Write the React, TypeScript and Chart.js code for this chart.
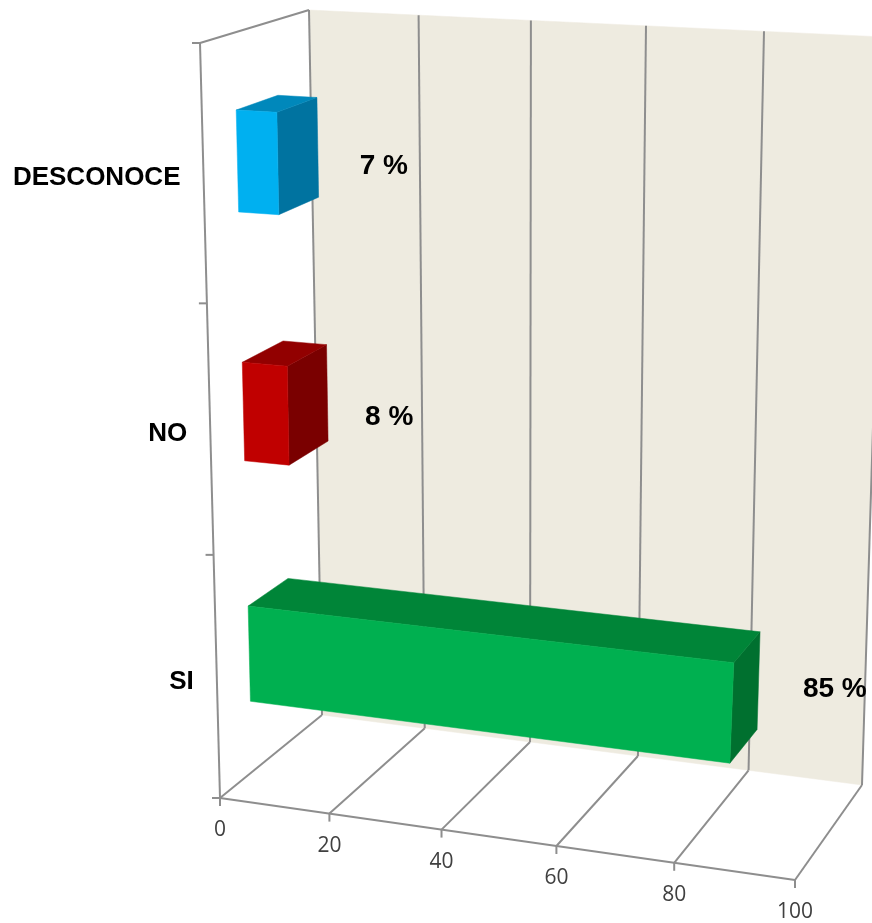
import React, { useEffect, useRef } from "react";
import { Chart, registerables } from "chart.js";

Chart.register(...registerables);

const categories = ["DESCONOCE", "NO", "SI"];
const percentages = [7, 8, 85];
const frontColors = ["#00B0F0", "#C00000", "#00B050"];
const topColors = ["#0088BB", "#920000", "#008538"];
const sideColors = ["#0073A0", "#7A0000", "#00702F"];

const LINE = "#8E8E8E";
const WALL = "#EEEBE0";
const BAR_FRONT_DEPTH = 0.315;
const BAR_BACK_DEPTH = 0.7;
const VALUE_LABEL_OFFSETS = [
  [106, 3],
  [101, 1],
  [103, -24],
];

// Corners of the 3D plot box, indexed [u][v][w]: value, category, depth.
type Pt = [number, number];
const BOX: Pt[][][] = [
  [
    [[220, 798], [322, 715]],
    [[200, 43], [309, 10]],
  ],
  [
    [[795, 880], [862, 785]],
    [[842, 74], [885, 37]],
  ],
];

const lerp = (a: number, b: number, t: number) => a + (b - a) * t;
// Foreshortening along the value and category directions.
const foreshorten = (t: number, k: number) => (k * t) / (1 - t + k * t);

function project(u: number, v: number, w: number): Pt {
  const uu = foreshorten(u, 0.94);
  const vv = foreshorten(v, 0.95);
  const axis = (i: number) => {
    const low = lerp(
      lerp(BOX[0][0][0][i], BOX[0][0][1][i], w),
      lerp(BOX[1][0][0][i], BOX[1][0][1][i], w),
      uu
    );
    const high = lerp(
      lerp(BOX[0][1][0][i], BOX[0][1][1][i], w),
      lerp(BOX[1][1][0][i], BOX[1][1][1][i], w),
      uu
    );
    return lerp(low, high, vv);
  };
  return [axis(0), axis(1)];
}

function poly(ctx: CanvasRenderingContext2D, pts: Pt[], fill: string) {
  ctx.beginPath();
  pts.forEach((p, i) => (i ? ctx.lineTo(p[0], p[1]) : ctx.moveTo(p[0], p[1])));
  ctx.closePath();
  ctx.fillStyle = fill;
  ctx.fill();
  ctx.strokeStyle = fill;
  ctx.lineWidth = 0.5;
  ctx.stroke();
}

function segment(ctx: CanvasRenderingContext2D, a: Pt, b: Pt, width = 2) {
  ctx.beginPath();
  ctx.moveTo(a[0], a[1]);
  ctx.lineTo(b[0], b[1]);
  ctx.strokeStyle = LINE;
  ctx.lineWidth = width;
  ctx.stroke();
}

const box3d = {
  id: "box3d",
  // The plot box and its axes go under the bars.
  beforeDatasetsDraw(chart: any) {
    const { ctx, chartArea: area, scales } = chart;
    const toU = (px: number) => (px - area.left) / area.width;
    const toV = (py: number) => (area.bottom - py) / area.height;

    ctx.save();
    poly(ctx, [project(0, 1, 1), project(1, 1, 1), project(1, 0, 1), project(0, 0, 1)], WALL);

    // Value axis: wall grid, floor grid, front ticks and numbers.
    ctx.font = '21px "Open Sans"';
    ctx.textAlign = "center";
    ctx.textBaseline = "middle";
    scales.x.ticks.forEach((tick: any) => {
      const u = toU(scales.x.getPixelForValue(tick.value));
      const front = project(u, 0, 0);
      segment(ctx, project(u, 1, 1), project(u, 0, 1));
      segment(ctx, project(u, 0, 1), front);
      segment(ctx, front, [front[0], front[1] + 8]);
      ctx.fillStyle = "#404040";
      ctx.fillText(String(tick.value), front[0], front[1] + 32.5);
    });
    segment(ctx, project(0, 0, 0), project(1, 0, 0));
    segment(ctx, project(0, 0, 0), project(0, 1, 0));
    segment(ctx, project(0, 1, 0), project(0, 1, 1));

    // Category axis: boundary ticks on the left edge and the names.
    for (let i = 0; i <= categories.length; i++) {
      const p = project(0, toV(scales.y.getPixelForValue(i - 0.5)), 0);
      segment(ctx, p, [p[0] - 8, p[1]]);
    }
    ctx.font = 'bold 26px "Liberation Sans"';
    ctx.fillStyle = "#000000";
    ctx.textAlign = "right";
    categories.forEach((name, i) => {
      const p = project(0, toV(scales.y.getPixelForValue(i)), 0);
      ctx.fillText(name, p[0] - 23, p[1] + 4);
    });
    ctx.restore();
  },
  // Each bar is extruded from the rectangle computed by the bar controller.
  beforeDatasetDraw(chart: any, args: any) {
    const { ctx, chartArea: area } = chart;
    const toU = (px: number) => (px - area.left) / area.width;
    const toV = (py: number) => (area.bottom - py) / area.height;
    const d0 = BAR_FRONT_DEPTH;
    const d1 = BAR_BACK_DEPTH;
    ctx.save();
    args.meta.data.forEach((bar: any, i: number) => {
      const { x, y, base, height } = bar.getProps(["x", "y", "base", "height"], true);
      const u0 = toU(base);
      const u1 = toU(x);
      const v0 = toV(y + height / 2);
      const v1 = toV(y - height / 2);
      poly(ctx, [project(u1, v1, d0), project(u1, v1, d1), project(u1, v0, d1), project(u1, v0, d0)], sideColors[i]);
      poly(ctx, [project(u0, v1, d0), project(u0, v1, d1), project(u1, v1, d1), project(u1, v1, d0)], topColors[i]);
      poly(ctx, [project(u0, v1, d0), project(u1, v1, d0), project(u1, v0, d0), project(u0, v0, d0)], frontColors[i]);

      const anchor = project(u1, (v0 + v1) / 2, d0);
      const [dx, dy] = VALUE_LABEL_OFFSETS[i];
      ctx.font = 'bold 28px "Liberation Sans"';
      ctx.fillStyle = "#000000";
      ctx.textAlign = "center";
      ctx.textBaseline = "middle";
      ctx.fillText(`${percentages[i]} %`, anchor[0] + dx, anchor[1] + dy);
    });
    ctx.restore();
    return false;
  },
};

export default function App() {
  const ref = useRef<HTMLCanvasElement>(null);

  useEffect(() => {
    const chart = new Chart(ref.current!, {
      type: "bar",
      data: {
        labels: categories,
        datasets: [
          {
            data: percentages,
            backgroundColor: frontColors,
            barPercentage: 0.4,
            categoryPercentage: 1,
          },
        ],
      },
      options: {
        indexAxis: "y",
        responsive: false,
        animation: false,
        layout: { padding: 0 },
        plugins: { legend: { display: false }, tooltip: { enabled: false } },
        scales: {
          x: { display: false, min: 0, max: 100, ticks: { stepSize: 20 } },
          y: { display: false },
        },
      },
      plugins: [box3d],
    });
    return () => chart.destroy();
  }, []);

  return (
    <canvas
      ref={ref}
      width={872}
      height={923}
      style={{ position: "fixed", left: 0, top: 0, display: "block" }}
    />
  );
}
